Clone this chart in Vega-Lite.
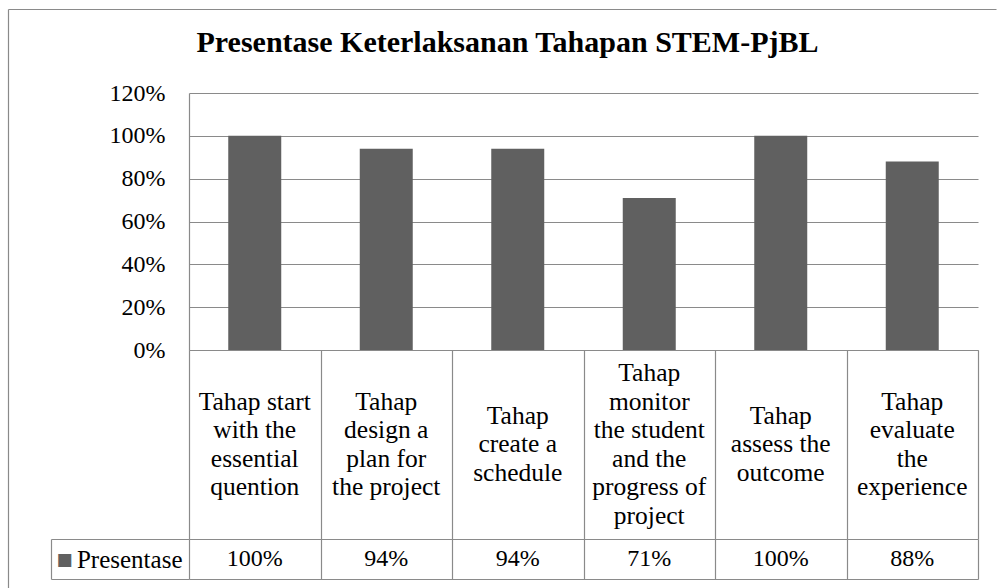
{
  "$schema": "https://vega.github.io/schema/vega-lite/v6.json",
  "background": "white",
  "padding": {"left": 8, "top": 6, "right": 0, "bottom": 0},
  "title": {
    "text": "Presentase Keterlaksanan Tahapan STEM-PjBL",
    "font": "Liberation Serif",
    "fontSize": 30,
    "fontWeight": "bold",
    "color": "black",
    "anchor": "middle",
    "offset": -52,
    "dx": -85
  },
  "config": {
    "view": {"stroke": null},
    "font": "Liberation Serif",
    "axis": {
      "labelFont": "Liberation Serif",
      "labelFontSize": 24,
      "labelColor": "black",
      "gridColor": "#8a8a8a",
      "domainColor": "#8a8a8a",
      "tickColor": "#8a8a8a",
      "gridWidth": 1.2,
      "domainWidth": 1.2,
      "tickWidth": 1.2,
      "title": null
    }
  },
  "datasets": {
    "stages": [
      {"stage": "Tahap start\nwith the\nessential\nquention", "series": "Presentase", "value": 1.0},
      {"stage": "Tahap\ndesign a\nplan for\nthe project", "series": "Presentase", "value": 0.94},
      {"stage": "Tahap\ncreate a\nschedule", "series": "Presentase", "value": 0.94},
      {"stage": "Tahap\nmonitor\nthe student\nand the\nprogress of\nproject", "series": "Presentase", "value": 0.71},
      {"stage": "Tahap\nassess the\noutcome", "series": "Presentase", "value": 1.0},
      {"stage": "Tahap\nevaluate\nthe\nexperience", "series": "Presentase", "value": 0.88}
    ]
  },
  "spacing": 0,
  "bounds": "flush",
  "resolve": {"scale": {"x": "independent", "y": "independent"}},
  "vconcat": [
    {
      "width": 789,
      "height": 257,
      "data": {"name": "stages"},
      "layer": [
        {
          "mark": {"type": "bar", "color": "#606060"},
          "encoding": {
            "x": {
              "field": "stage", "type": "nominal", "sort": null,
              "scale": {"paddingInner": 0.597, "paddingOuter": 0.2985},
              "axis": {"labels": false, "ticks": false, "domain": true, "grid": false}
            },
            "y": {
              "field": "value", "type": "quantitative",
              "scale": {"domain": [0, 1.2]},
              "axis": {
                "format": ".0%",
                "values": [0, 0.2, 0.4, 0.6, 0.8, 1.0, 1.2],
                "grid": true, "ticks": false, "domain": true,
                "labelPadding": 24
              }
            }
          }
        },
        {
          "mark": {"type": "point", "opacity": 0},
          "encoding": {
            "x": {
              "field": "value", "type": "quantitative",
              "scale": {"range": [-181, 807], "zero": true},
              "axis": {"orient": "top", "offset": 84, "labels": false, "ticks": false, "grid": false, "domain": true}
            },
            "y": {
              "field": "value", "type": "quantitative",
              "scale": {"range": [497, -84], "zero": true},
              "axis": {"orient": "left", "offset": 181, "labels": false, "ticks": false, "grid": false, "domain": true}
            }
          }
        }
      ],
      "resolve": {"scale": {"x": "independent", "y": "independent"}}
    },
    {
      "width": 789,
      "height": 189,
      "data": {"name": "stages"},
      "encoding": {
        "x": {
          "field": "stage", "type": "nominal", "sort": null,
          "scale": {"paddingInner": 0, "paddingOuter": 0},
          "axis": {"labels": false, "ticks": false, "domain": false, "grid": true, "tickBand": "extent"}
        }
      },
      "layer": [
        {
          "mark": {
            "type": "text", "font": "Liberation Serif", "fontSize": 25.5,
            "lineBreak": "\n", "lineHeight": 28.6, "baseline": "middle",
            "align": "center", "color": "black", "dy": -28.6
          },
          "encoding": {
            "text": {"condition": {"test": "length(split(datum.stage, '\\n')) == 3", "field": "stage"}, "value": ""}
          }
        },
        {
          "mark": {
            "type": "text", "font": "Liberation Serif", "fontSize": 25.5,
            "lineBreak": "\n", "lineHeight": 28.6, "baseline": "middle",
            "align": "center", "color": "black", "dy": -42.9
          },
          "encoding": {
            "text": {"condition": {"test": "length(split(datum.stage, '\\n')) == 4", "field": "stage"}, "value": ""}
          }
        },
        {
          "mark": {
            "type": "text", "font": "Liberation Serif", "fontSize": 25.5,
            "lineBreak": "\n", "lineHeight": 28.6, "baseline": "middle",
            "align": "center", "color": "black", "dy": -71.5
          },
          "encoding": {
            "text": {"condition": {"test": "length(split(datum.stage, '\\n')) == 6", "field": "stage"}, "value": ""}
          }
        }
      ]
    },
    {
      "width": 789,
      "height": 40,
      "data": {"name": "stages"},
      "layer": [
        {
          "mark": {
            "type": "text", "font": "Liberation Serif", "fontSize": 24,
            "baseline": "middle", "align": "center", "color": "black"
          },
          "encoding": {
            "x": {
              "field": "stage", "type": "nominal", "sort": null,
              "scale": {"paddingInner": 0, "paddingOuter": 0},
              "axis": {"labels": false, "ticks": false, "domain": false, "grid": true, "tickBand": "extent"}
            },
            "y": {
              "field": "series", "type": "nominal",
              "scale": {"paddingInner": 0, "paddingOuter": 0},
              "axis": {
                "grid": true, "tickBand": "extent", "ticks": true, "tickSize": 138,
                "domain": false, "labelPadding": -131, "labelFontSize": 25
              }
            },
            "text": {"field": "value", "type": "quantitative", "format": ".0%"}
          }
        },
        {
          "mark": {"type": "text", "opacity": 0},
          "encoding": {
            "y": {
              "field": "series", "type": "nominal",
              "scale": {"paddingInner": 0, "paddingOuter": 0},
              "axis": {
                "orient": "left", "offset": 138, "grid": false, "ticks": false,
                "tickSize": 0, "domain": true, "labelPadding": -21,
                "labelExpr": "'■'", "labelColor": "#606060",
                "labelFont": "DejaVu Sans", "labelFontSize": 17
              }
            }
          }
        }
      ],
      "resolve": {"scale": {"y": "independent"}}
    }
  ]
}
